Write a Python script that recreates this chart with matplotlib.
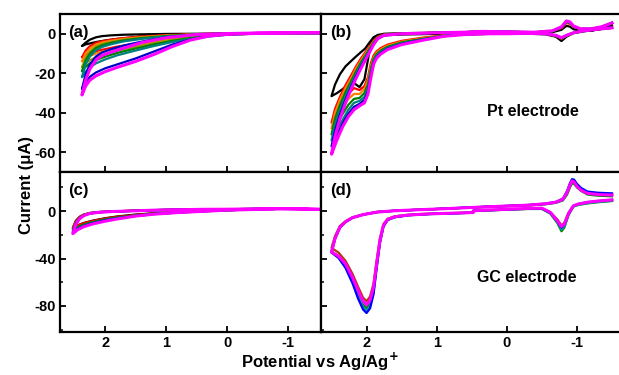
import matplotlib
matplotlib.use("Agg")
import matplotlib.pyplot as plt
from matplotlib.ticker import MultipleLocator

plt.rcParams['font.family'] = ['Liberation Sans', 'DejaVu Sans']
plt.rcParams['font.weight'] = 'bold'
plt.rcParams['axes.labelweight'] = 'bold'
plt.rcParams['axes.unicode_minus'] = False
plt.rcParams['mathtext.default'] = 'bf'

# ---------------- panel (a): Pt, blank ----------------
E_a = [-1.5, -1.0, -0.5, 0.0, 0.3, 0.6, 0.9, 1.2, 1.5, 1.8, 2.0, 2.15, 2.25, 2.32, 2.38,
       2.32, 2.25, 2.15, 2.05, 1.9, 1.7, 1.4, 1.0, 0.5, 0.0, -0.5, -1.0, -1.5]
a_black = [0.3, 0.3, 0.2, 0.0, -0.2, -0.4, -0.7, -1.1, -1.7, -2.6, -3.4, -4.2, -4.9, -5.4, -6.2,
           -4.5, -3.0, -1.8, -1.2, -0.8, -0.5, -0.3, -0.1, 0.0, 0.2, 0.3, 0.3, 0.3]
a_red = [0.3, 0.3, 0.2, -0.2, -0.7, -1.2, -2.2, -3.5, -5.0, -6.5, -7.8, -8.8, -9.8, -10.8, -12.0,
         -8.5, -6.3, -4.6, -3.8, -3.0, -2.2, -1.4, -0.7, -0.2, 0.1, 0.3, 0.3, 0.3]
a_orange = [0.3, 0.3, 0.2, -0.3, -0.8, -1.5, -2.6, -4.0, -5.6, -7.3, -8.8, -10.0, -11.2, -12.5, -14.0,
            -10.0, -7.5, -5.5, -4.4, -3.5, -2.6, -1.7, -0.9, -0.3, 0.1, 0.3, 0.3, 0.3]
a_olive = [0.3, 0.3, 0.1, -0.4, -1.0, -1.9, -3.1, -4.7, -6.6, -8.6, -10.4, -11.9, -13.4, -15.0, -17.0,
           -12.2, -9.0, -6.5, -5.2, -4.1, -3.0, -2.0, -1.1, -0.3, 0.1, 0.3, 0.3, 0.3]
a_green = [0.3, 0.3, 0.1, -0.5, -1.2, -2.2, -3.6, -5.4, -7.5, -9.7, -11.6, -13.3, -15.0, -16.8, -19.0,
           -13.5, -10.0, -7.2, -5.8, -4.6, -3.4, -2.2, -1.2, -0.4, 0.1, 0.3, 0.3, 0.3]
a_teal = [0.3, 0.3, 0.1, -0.5, -1.4, -2.6, -4.2, -6.2, -8.5, -10.9, -13.0, -15.0, -17.0, -19.3, -22.0,
          -15.5, -11.5, -8.3, -6.7, -5.3, -3.9, -2.6, -1.4, -0.4, 0.1, 0.3, 0.3, 0.3]
a_blue = [0.4, 0.4, 0.2, -0.3, -1.0, -2.9, -5.5, -9.0, -12.5, -15.5, -17.5, -19.6, -21.8, -24.5, -28.0,
          -20.5, -15.5, -11.5, -9.5, -7.8, -6.0, -4.0, -1.8, -0.4, 0.1, 0.4, 0.4, 0.4]
a_magenta = [0.5, 0.4, 0.2, -0.3, -1.2, -3.2, -6.5, -10.5, -14.0, -17.0, -19.2, -21.3, -23.5, -26.5, -31.0,
             -23.5, -17.8, -13.3, -11.0, -9.3, -7.3, -4.5, -2.0, -0.4, 0.1, 0.4, 0.5, 0.5]

# ---------------- panel (b): Pt electrode ----------------
E_b = [-1.5, -1.3, -1.1, -0.95, -0.85, -0.78, -0.7, -0.55, -0.3, 0.0, 0.3, 0.6, 0.9, 1.2, 1.5, 1.7,
       1.8, 1.86, 1.9, 1.94, 1.98, 2.03, 2.1, 2.18, 2.26, 2.34, 2.42, 2.5,
       2.45, 2.38, 2.3, 2.22, 2.15, 2.08, 2.02, 1.96, 1.9, 1.84, 1.75, 1.5, 1.0, 0.6, 0.35, 0.0,
       -0.4, -0.65, -0.78, -0.85, -0.9, -0.95, -1.05, -1.2, -1.35, -1.5]
b_black = [3.0, 2.2, 1.2, 0.3, -1.5, -3.7, -1.5, -0.3, 0.0, 0.2, 0.3, 0.2, 0.0, -0.2, -0.4, -0.7,
           -1.0, -1.3, -2.0, -5.0, -13.0, -23.0, -27.0, -25.0, -25.5, -28.0, -30.0, -31.6,
           -25.7, -20.5, -16.5, -13.8, -11.5, -9.3, -7.5, -4.5, -1.8, -0.6, 0.0, 0.3, 0.5, 0.8, 1.0, 0.8,
           0.5, 0.8, 2.0, 4.0, 3.6, 2.3, 1.5, 1.5, 2.5, 4.5]
b_red = [3.0, 2.3, 1.5, 0.4, -1.0, -2.5, -1.0, 0.0, 0.2, 0.1, -0.1, -0.3, -0.8, -2.0, -3.6, -5.5,
         -7.3, -9.0, -11.0, -15.0, -22.0, -26.5, -28.5, -27.5, -30.5, -35.0, -40.0, -45.0,
         -38.0, -32.0, -26.0, -21.0, -16.5, -12.5, -9.5, -6.5, -3.5, -1.5, -0.4, 0.1, 0.5, 0.8, 1.1, 1.0,
         0.7, 1.3, 3.0, 5.5, 5.0, 3.5, 2.3, 2.4, 3.4, 5.3]
b_orange = [3.0, 2.3, 1.5, 0.4, -1.0, -2.4, -1.0, 0.0, 0.2, 0.1, -0.1, -0.3, -0.9, -2.3, -4.0, -6.0,
            -7.9, -9.7, -12.0, -16.5, -23.5, -28.0, -30.5, -30.5, -33.0, -37.5, -42.5, -48.0,
            -40.0, -33.5, -27.5, -22.5, -17.5, -13.5, -10.3, -7.2, -4.0, -1.8, -0.5, 0.1, 0.5, 0.8, 1.1, 1.0,
            0.7, 1.3, 3.1, 5.7, 5.2, 3.6, 2.4, 2.4, 3.4, 5.3]
b_green = [3.0, 2.3, 1.5, 0.4, -0.9, -2.3, -0.9, 0.0, 0.2, 0.1, -0.1, -0.3, -1.0, -2.6, -4.4, -6.6,
           -8.6, -10.5, -12.8, -18.0, -25.5, -30.0, -32.5, -33.0, -36.0, -40.5, -45.5, -51.0,
           -43.0, -36.0, -29.5, -24.0, -19.0, -14.5, -11.2, -7.8, -4.4, -2.0, -0.6, 0.0, 0.5, 0.8, 1.1, 1.0,
           0.7, 1.3, 3.2, 5.9, 5.4, 3.7, 2.4, 2.4, 3.4, 5.4]
b_teal = [3.0, 2.3, 1.5, 0.4, -0.9, -2.2, -0.9, 0.0, 0.2, 0.0, -0.1, -0.3, -1.1, -2.8, -4.8, -7.1,
          -9.2, -11.3, -13.8, -19.5, -27.5, -32.0, -34.0, -35.0, -38.5, -43.5, -48.5, -54.0,
          -46.0, -38.5, -31.5, -25.5, -20.3, -15.5, -12.0, -8.4, -4.8, -2.2, -0.7, 0.0, 0.5, 0.8, 1.1, 1.0,
          0.7, 1.4, 3.3, 6.1, 5.6, 3.8, 2.4, 2.4, 3.4, 5.4]
b_blue = [3.2, 2.4, 1.5, 0.5, -0.8, -2.1, -0.8, 0.0, 0.2, 0.0, 0.0, -0.3, -1.2, -3.0, -5.2, -7.6,
          -9.8, -12.0, -14.8, -21.0, -29.0, -33.5, -35.5, -37.0, -40.5, -45.3, -51.0, -57.0,
          -49.0, -40.8, -33.3, -26.8, -21.5, -16.5, -12.8, -9.0, -5.2, -2.4, -0.8, 0.0, 0.5, 0.8, 1.2, 1.0,
          0.8, 1.4, 3.4, 6.3, 5.8, 3.9, 2.5, 2.5, 3.5, 5.6]
b_magenta = [3.0, 2.3, 1.5, 0.5, -0.8, -2.0, -0.8, 0.0, 0.2, 0.0, 0.0, -0.4, -1.3, -3.3, -5.5, -8.0,
             -10.3, -12.5, -15.5, -22.5, -30.5, -35.0, -36.5, -38.5, -42.0, -47.0, -53.5, -61.0,
             -52.0, -43.0, -35.0, -28.0, -22.5, -17.5, -13.5, -9.5, -5.5, -2.5, -0.8, 0.0, 0.5, 0.8, 1.2, 1.0,
             0.8, 1.5, 3.5, 6.5, 6.0, 4.0, 2.5, 2.5, 3.5, 5.5]

# ---------------- panel (c): GC, blank ----------------
E_c = [-1.5, -1.2, -0.9, -0.6, -0.3, 0.0, 0.4, 0.8, 1.2, 1.5, 1.8, 2.0, 2.2, 2.35, 2.45, 2.53,
       2.48, 2.42, 2.35, 2.25, 2.1, 1.9, 1.6, 1.2, 0.8, 0.4, 0.0, -0.4, -0.8, -1.2, -1.5]
c_black = [1.5, 1.8, 2.0, 1.6, 1.2, 0.8, 0.0, -0.8, -1.8, -2.9, -4.5, -6.0, -8.0, -10.0, -12.0, -14.5,
           -8.5, -5.0, -3.0, -1.6, -0.8, -0.3, 0.2, 0.8, 1.2, 1.5, 1.6, 1.8, 2.1, 1.9, 1.5]
c_red = [1.5, 1.8, 2.0, 1.6, 1.2, 0.8, 0.0, -0.9, -2.0, -3.2, -4.8, -6.3, -8.3, -10.2, -12.0, -14.0,
         -8.0, -4.8, -2.9, -1.6, -0.8, -0.3, 0.2, 0.8, 1.2, 1.5, 1.6, 1.8, 2.1, 1.9, 1.5]
c_green = [1.5, 1.8, 2.0, 1.6, 1.2, 0.8, -0.1, -1.0, -2.2, -3.6, -5.4, -7.0, -9.2, -11.3, -13.4, -16.0,
           -9.2, -5.5, -3.3, -1.8, -0.9, -0.3, 0.1, 0.8, 1.2, 1.5, 1.6, 1.8, 2.1, 1.9, 1.5]
c_teal = [1.5, 1.8, 2.0, 1.6, 1.2, 0.8, -0.1, -1.1, -2.4, -3.9, -5.8, -7.5, -9.8, -12.1, -14.4, -17.0,
          -9.9, -5.9, -3.5, -1.9, -0.9, -0.4, 0.1, 0.8, 1.2, 1.5, 1.6, 1.8, 2.1, 1.9, 1.5]
c_blue = [1.5, 1.8, 2.0, 1.6, 1.2, 0.8, -0.2, -1.2, -2.5, -4.1, -6.1, -7.8, -10.2, -12.6, -15.0, -18.0,
          -10.5, -6.2, -3.7, -2.0, -1.0, -0.4, 0.1, 0.8, 1.2, 1.5, 1.6, 1.8, 2.1, 1.9, 1.5]
c_magenta = [1.5, 1.8, 2.0, 1.6, 1.2, 0.8, -0.2, -1.2, -2.6, -4.2, -6.6, -8.5, -10.8, -13.2, -15.7, -19.0,
             -11.0, -6.5, -3.8, -2.0, -1.0, -0.4, 0.1, 0.8, 1.2, 1.5, 1.6, 1.8, 2.1, 1.9, 1.5]

# ---------------- panel (d): GC electrode ----------------
E_d = [-1.5, -1.3, -1.15, -1.02, -0.95, -0.88, -0.82, -0.78, -0.72, -0.62, -0.5, -0.3, 0.0, 0.3, 0.48, 0.48,
       0.8, 1.1, 1.4, 1.6, 1.7, 1.76, 1.81, 1.86, 1.9, 1.95, 2.0, 2.05, 2.12, 2.2, 2.3, 2.4, 2.5,
       2.45, 2.38, 2.3, 2.2, 2.05, 1.85, 1.6, 1.2, 0.9, 0.6, 0.3, 0.0, -0.3, -0.55, -0.7, -0.8,
       -0.86, -0.9, -0.93, -0.96, -1.0, -1.06, -1.15, -1.3, -1.5]
d_red = [9.0, 8.0, 7.0, 5.8, 4.5, -1.5, -10.0, -12.0, -7.0, -1.0, 2.2, 2.0, 1.3, 0.6, 0.2, -1.2,
         -1.7, -2.1, -3.0, -4.4, -6.5, -11.0, -23.0, -43.0, -61.0, -72.0, -76.0, -73.0, -64.0, -53.0, -42.0, -35.0, -31.0,
         -21.0, -12.5, -8.5, -5.2, -2.8, -0.7, 0.3, 1.3, 2.0, 2.8, 3.6, 4.3, 5.0, 6.0, 7.3, 9.5,
         15.0, 21.0, 24.5, 24.0, 21.0, 18.0, 15.5, 14.5, 14.0]
d_green = [8.5, 7.5, 6.5, 5.2, 3.8, -3.5, -14.0, -17.0, -10.0, -2.0, 1.8, 1.8, 1.2, 0.5, 0.1, -1.3,
           -1.9, -2.4, -3.4, -5.0, -7.3, -12.5, -26.0, -48.0, -66.0, -78.0, -82.0, -79.0, -70.0, -58.0, -46.0, -38.5, -34.0,
           -23.0, -13.5, -9.0, -5.5, -3.0, -0.8, 0.3, 1.3, 2.0, 2.8, 3.6, 4.2, 4.8, 5.8, 7.0, 9.0,
           14.0, 20.0, 23.5, 23.0, 20.0, 17.0, 14.0, 13.0, 12.5]
d_teal = [8.8, 7.8, 6.8, 5.5, 4.0, -3.0, -13.0, -15.5, -9.0, -1.8, 2.0, 1.9, 1.3, 0.6, 0.2, -1.3,
          -1.9, -2.4, -3.4, -5.0, -7.4, -12.8, -26.5, -49.0, -68.0, -80.0, -84.0, -81.0, -72.0, -59.5, -47.0, -39.0, -34.5,
          -23.0, -13.5, -9.0, -5.5, -3.0, -0.8, 0.3, 1.3, 2.0, 2.8, 3.6, 4.3, 5.0, 6.0, 7.3, 9.8,
          15.5, 22.0, 25.5, 25.0, 21.5, 18.0, 15.5, 14.5, 14.0]
d_blue = [9.5, 8.5, 7.5, 6.0, 4.5, -2.0, -11.5, -14.0, -8.5, -1.5, 2.3, 2.2, 1.4, 0.7, 0.2, -1.3,
          -2.0, -2.5, -3.5, -5.2, -7.6, -13.2, -27.0, -50.0, -70.0, -82.0, -86.0, -83.0, -74.0, -61.0, -48.0, -39.5, -35.0,
          -23.5, -14.0, -9.2, -5.6, -3.0, -0.8, 0.3, 1.3, 2.1, 2.9, 3.7, 4.4, 5.2, 6.3, 7.8, 10.5,
          17.0, 23.5, 27.0, 26.5, 23.0, 19.5, 16.5, 15.5, 15.0]
d_magenta = [9.5, 8.5, 7.5, 6.0, 4.5, -2.0, -11.0, -13.0, -8.0, -1.0, 2.5, 2.3, 1.5, 0.8, 0.3, -1.2,
             -1.8, -2.3, -3.3, -4.8, -7.0, -12.0, -25.0, -46.0, -64.0, -75.0, -79.0, -76.0, -67.0, -56.0, -44.5, -38.0, -34.5,
             -23.0, -13.5, -9.0, -5.5, -3.0, -0.8, 0.3, 1.3, 2.0, 2.8, 3.6, 4.3, 5.0, 6.2, 7.5, 10.0,
             16.0, 22.0, 25.5, 24.5, 21.0, 17.5, 15.0, 14.0, 13.5]


def draw(ax, E, curves):
    for cur, col in curves:
        lw = 2.2 if col == '#ff00ff' else 1.6
        ax.plot(E, cur, color=col, lw=lw, solid_joinstyle='round')


def style(ax, xlim, ylim, ymajor, yminor=None, xlabels=False, ylabels=False):
    ax.set_xlim(*xlim)
    ax.set_ylim(*ylim)
    ax.xaxis.set_major_locator(MultipleLocator(1))
    ax.yaxis.set_major_locator(MultipleLocator(ymajor))
    if yminor:
        ax.yaxis.set_minor_locator(MultipleLocator(yminor))
    ax.tick_params(direction='in', length=4, width=1.3, labelsize=10.5, pad=3)
    ax.tick_params(which='minor', direction='in', length=2.5, width=1.1)
    if not xlabels:
        ax.tick_params(axis='x', labelbottom=False)
    if not ylabels:
        ax.tick_params(axis='y', labelleft=False)
    for s in ax.spines.values():
        s.set_linewidth(1.6)


fig = plt.figure(figsize=(6.19, 3.75), dpi=100)
xL, wL = 60 / 619, 261 / 619
xR, wR = 321 / 619, 298 / 619
yT, hT = 1 - 172 / 375, 158 / 375
yB, hB = 1 - 332 / 375, 160 / 375

ax_a = fig.add_axes([xL, yT, wL, hT])
ax_b = fig.add_axes([xR, yT, wR, hT])
ax_c = fig.add_axes([xL, yB, wL, hB])
ax_d = fig.add_axes([xR, yB, wR, hB])

draw(ax_a, E_a, [(a_black, 'black'), (a_red, '#ff0000'), (a_orange, '#ff7f00'), (a_olive, '#9a9a00'),
                 (a_green, '#008000'), (a_teal, '#008080'), (a_blue, '#0000cc'), (a_magenta, '#ff00ff')])
draw(ax_b, E_b, [(b_black, 'black'), (b_red, '#ff0000'), (b_orange, '#ff7f00'), (b_green, '#008000'),
                 (b_teal, '#008080'), (b_blue, '#0000cc'), (b_magenta, '#ff00ff')])
draw(ax_c, E_c, [(c_black, 'black'), (c_red, '#ff0000'), (c_green, '#008000'), (c_teal, '#008080'),
                 (c_blue, '#0000cc'), (c_magenta, '#ff00ff')])
draw(ax_d, E_d, [(d_red, '#b5370a'), (d_green, '#008000'), (d_teal, '#00a0a0'), (d_blue, '#0000ff'),
                 (d_magenta, '#ff00ff')])

style(ax_a, (2.74, -1.54), (-70, 10), 20, ylabels=True)
style(ax_b, (2.65, -1.6), (-70, 10), 20)
style(ax_c, (2.74, -1.54), (-102, 33), 40, 20, xlabels=True, ylabels=True)
style(ax_d, (2.65, -1.6), (-102, 33), 40, 20, xlabels=True)
ax_b.spines['right'].set_visible(False)
ax_d.spines['right'].set_visible(False)

for ax, lab in [(ax_a, '(a)'), (ax_b, '(b)'), (ax_c, '(c)'), (ax_d, '(d)')]:
    ax.text(0.03, 0.93, lab, transform=ax.transAxes, fontsize=12, fontweight='bold',
            ha='left', va='top')

ax_b.text(0.71, 0.38, 'Pt electrode', transform=ax_b.transAxes, fontsize=11.5,
          fontweight='bold', ha='center', va='center')
ax_d.text(0.69, 0.34, 'GC electrode', transform=ax_d.transAxes, fontsize=11.5,
          fontweight='bold', ha='center', va='center')

fig.text(26 / 619, 1 - 185 / 375, 'Current (\u03bcA)', rotation=90, fontsize=12,
         fontweight='bold', ha='center', va='center')
fig.text(320 / 619, 1 - 362 / 375, 'Potential vs Ag/Ag$^{+}$', fontsize=12,
         fontweight='bold', ha='center', va='center')

fig.savefig('out.png', dpi=100)
